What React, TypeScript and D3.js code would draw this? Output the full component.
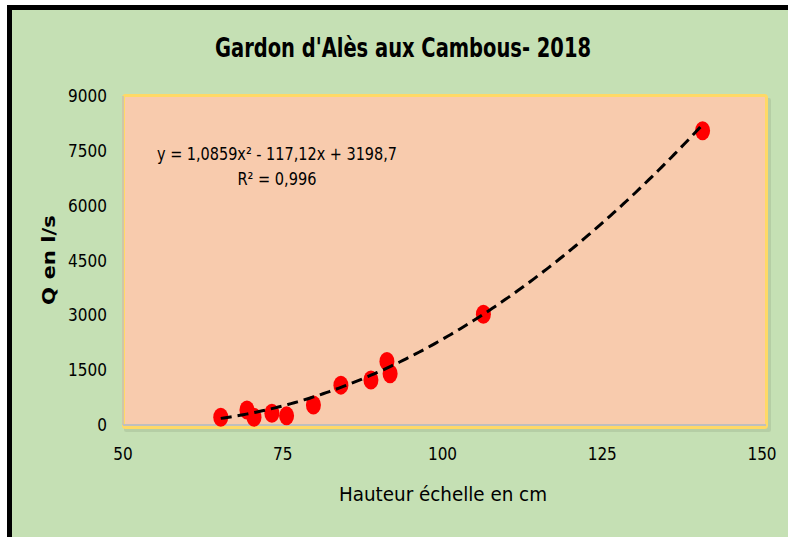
import { scaleLinear, line, range, curveLinear } from 'd3'

const width = 788
const height = 537

// data
const hauteur = [65.3, 69.4, 70.5, 73.3, 75.6, 79.8, 84.1, 88.8, 91.3, 91.8, 106.4, 140.7]
const debit = [210, 410, 210, 320, 250, 545, 1090, 1230, 1740, 1400, 3030, 8050]

const xTicks = [50, 75, 100, 125, 150]
const yTicks = [0, 1500, 3000, 4500, 6000, 7500, 9000]

// polynomial trend line coefficients (from the equation shown)
const coefA = 1.0859
const coefB = -117.12
const coefC = 3198.7

const title = "Gardon d'Alès aux Cambous- 2018"
const xTitle = 'Hauteur échelle en cm'
const yTitle = 'Q en l/s'
const equation = 'y = 1,0859x² - 117,12x + 3198,7'
const rSquared = 'R² = 0,996'

const font = "'DejaVu Sans Condensed', 'DejaVu Sans', sans-serif"

const x = scaleLinear().domain([50, 150]).range([123, 762])
const y = scaleLinear().domain([0, 9000]).range([425, 96])

function App() {
  const fitX = range(65.3, 140.8, 0.5)
  const fitLine = line<number>()
    .x(d => x(d))
    .y(d => y(coefA * d * d + coefB * d + coefC))
    .curve(curveLinear)

  return (
    <svg width={width} height={height} style={{ position: 'absolute', left: 0, top: 0, overflow: 'hidden' }}>
      <rect x={0} y={0} width={width} height={height} fill="#fff" />
      <rect x={9.5} y={7.5} width={width + 20} height={height + 20} fill="#c5e0b4" stroke="#000" strokeWidth={5} />

      <text x={403} y={57} textAnchor="middle" fontFamily={font} fontWeight="bold" fontSize={26}
        textLength={376} lengthAdjust="spacingAndGlyphs">{title}</text>

      {/* plot area */}
      <rect x={124} y={98} width={647} height={334} fill="#000" opacity={0.08} rx={2} />
      <rect x={123.5} y={95.5} width={643} height={332} fill="#f8cbad" stroke="#ffd966" strokeWidth={3} rx={2} />
      <line x1={x(50)} x2={x(50)} y1={y(9000)} y2={y(0)} stroke="#bfbfbf" strokeWidth={1.5} />
      <line x1={x(50)} x2={766} y1={y(0)} y2={y(0)} stroke="#bfbfbf" strokeWidth={2} />

      {yTicks.map(t => (
        <text key={t} x={107} y={y(t) + 6} textAnchor="end" fontFamily={font} fontSize={17}>{t}</text>
      ))}
      {xTicks.map(t => (
        <text key={t} x={x(t)} y={460} textAnchor="middle" fontFamily={font} fontSize={17}>{t}</text>
      ))}

      <text x={443} y={501} textAnchor="middle" fontFamily={font} fontSize={20}
        textLength={208} lengthAdjust="spacingAndGlyphs">{xTitle}</text>
      <text transform="translate(55, 260) rotate(-90)" textAnchor="middle" fontFamily="'DejaVu Sans', Verdana, sans-serif"
        fontWeight="bold" fontSize={18} textLength={90} lengthAdjust="spacingAndGlyphs">{yTitle}</text>

      {hauteur.map((h, i) => (
        <ellipse key={i} cx={x(h)} cy={y(debit[i])} rx={7.5} ry={9.5} fill="#ff0000" />
      ))}

      <path d={fitLine(fitX) ?? ''} fill="none" stroke="#000" strokeWidth={3} strokeDasharray="11,6" />

      <text x={277} y={160} textAnchor="middle" fontFamily={font} fontSize={17.5}
        textLength={240} lengthAdjust="spacingAndGlyphs">{equation}</text>
      <text x={277} y={185} textAnchor="middle" fontFamily={font} fontSize={17.5}
        textLength={79} lengthAdjust="spacingAndGlyphs">{rSquared}</text>
    </svg>
  )
}

export default App
